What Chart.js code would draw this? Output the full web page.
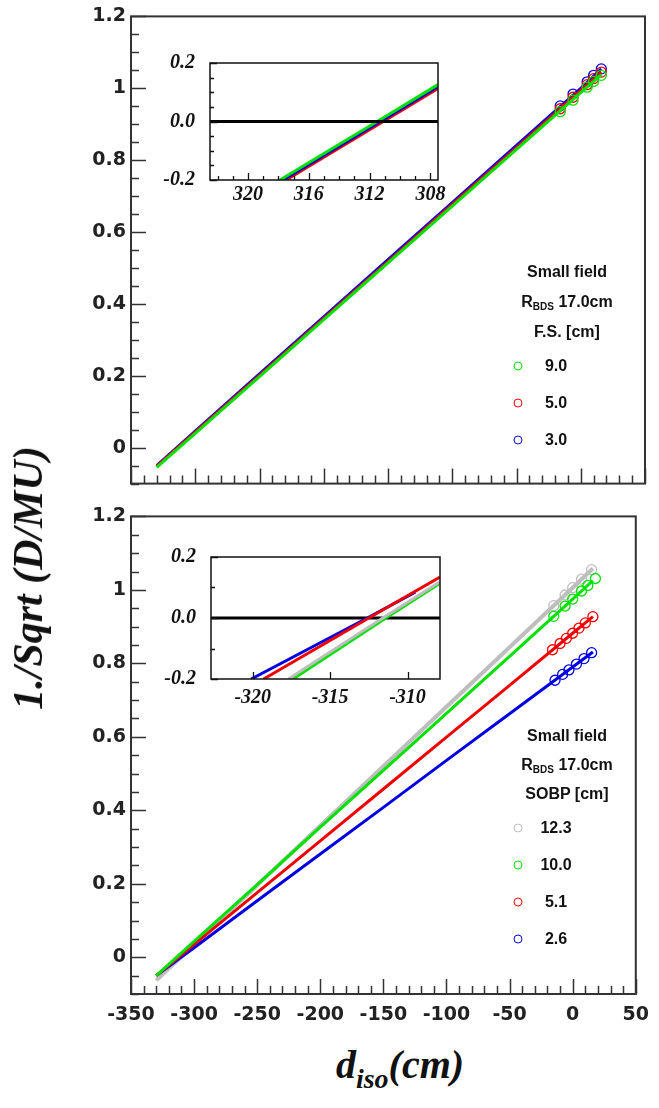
<!DOCTYPE html>
<html>
<head>
<meta charset="utf-8">
<script src="https://cdn.jsdelivr.net/npm/chart.js@4.4.1/dist/chart.umd.min.js"></script>
<style>
  body { margin: 0; background: #fff; }
  #wrap { position: relative; width: 659px; height: 1108px; overflow: hidden; }
  canvas { position: absolute; }
  .txt { position: absolute; font-family: "Liberation Sans", Arial, sans-serif; font-weight: bold; font-size: 16px; color: #111; white-space: nowrap; transform: translate(-50%, -50%); }
  .txt sub { font-size: 10px; vertical-align: -3px; }
  .mark { position: absolute; width: 7px; height: 7px; border-radius: 50%; border: 1.4px solid; transform: translate(-50%, -50%); }
  .title { position: absolute; font-family: "Liberation Serif", "Times New Roman", serif; font-style: italic; font-weight: bold; font-size: 40px; color: #111; white-space: nowrap; }
  .title sub { font-size: 28px; vertical-align: -10px; }
</style>
</head>
<body>
<div id="wrap">
  <canvas id="topChart" width="659" height="500" style="left:0;top:0"></canvas>
  <canvas id="bottomChart" width="659" height="540" style="left:0;top:500px"></canvas>
  <canvas id="topInset" width="310" height="180" style="left:140px;top:36px"></canvas>
  <canvas id="bottomInset" width="312" height="180" style="left:140px;top:530px"></canvas>
  <div id="legends"></div>
  <div class="title" style="left:28px;top:578px;transform:translate(-50%,-50%) rotate(-90deg);font-size:42px">1./Sqrt (D/MU)</div>
  <div class="title" style="left:400px;top:1068px;transform:translate(-50%,-50%)">d<sub>iso</sub>(cm)</div>
</div>
<script>
// ---------- colours ----------
const GREEN = 'rgb(0,225,0)';
const RED = 'rgb(240,0,0)';
const BLUE = 'rgb(0,0,225)';
const GRAY = 'rgb(190,190,190)';

// ---------- axis ticks ----------
const mainXTicks = [-350, -300, -250, -200, -150, -100, -50, 0, 50];
const mainYTicks = [0, 0.2, 0.4, 0.6, 0.8, 1, 1.2];
const topInsetXTicks = [320, 316, 312, 308];
const bottomInsetXTicks = [-320, -315, -310];
const insetYTicks = [-0.2, 0, 0.2];

// ---------- top panel (F.S.) ----------
const topLineX = [-330, -300, -250, -200, -150, -100, -50, 0, 16];
const topGreenY = [-0.055, 0.040, 0.198, 0.356, 0.514, 0.672, 0.830, 0.988, 1.038];
const topRedY = [-0.052, 0.043, 0.201, 0.360, 0.518, 0.677, 0.835, 0.994, 1.045];
const topBlueY = [-0.050, 0.046, 0.205, 0.364, 0.523, 0.682, 0.841, 1.000, 1.054];

const topPointX = [-16, -6, 5, 10, 16];
const topGreenPts = [0.935, 0.967, 1.003, 1.019, 1.036];
const topRedPts = [0.943, 0.975, 1.010, 1.027, 1.045];
const topBluePts = [0.951, 0.984, 1.018, 1.036, 1.054];

// top inset (distance shown positive, axis reversed)
const tiGreenX = [317.9, 311.5, 307.5];
const tiGreenY = [-0.2, 0, 0.126];
const tiRedX = [317.5, 311.1, 307.5];
const tiRedY = [-0.2, 0, 0.113];
const tiBlueX = [317.7, 311.3, 307.5];
const tiBlueY = [-0.2, 0, 0.120];

// ---------- bottom panel (SOBP) ----------
const botLineX = [-330, -300, -250, -200, -150, -100, -50, 0, 16];
const botGrayY = [-0.063, 0.034, 0.196, 0.358, 0.520, 0.682, 0.844, 1.006, 1.058];
const botGreenY = [-0.050, 0.043, 0.198, 0.354, 0.509, 0.664, 0.819, 0.975, 1.025];
const botRedY = [-0.050, 0.035, 0.176, 0.317, 0.458, 0.599, 0.740, 0.882, 0.927];
const botBlueY = [-0.050, 0.026, 0.154, 0.281, 0.408, 0.536, 0.663, 0.790, 0.831];

const botGrayPtsX = [-15, -6, 0, 7, 15];
const botGrayPts = [0.957, 0.986, 1.006, 1.029, 1.055];
const botGreenPtsX = [-15, -6, 0, 7, 12, 18];
const botGreenPts = [0.928, 0.956, 0.975, 0.997, 1.012, 1.031];
const botRedPtsX = [-16, -10, -5, 0, 5, 10, 16];
const botRedPts = [0.837, 0.854, 0.868, 0.882, 0.896, 0.910, 0.927];
const botBluePtsX = [-14, -8, -3, 3, 9, 15];
const botBluePts = [0.754, 0.770, 0.782, 0.798, 0.813, 0.829];

// bottom inset
const biGrayX = [-317.7, -311.6, -307.9];
const biGrayY = [-0.2, 0, 0.119];
const biGreenX = [-317.4, -311.4, -307.9];
const biGreenY = [-0.2, 0, 0.114];
const biRedX = [-319.3, -312.5, -307.9];
const biRedY = [-0.2, 0, 0.134];
const biBlueX = [-320.1, -312.6, -309.5];
const biBlueY = [-0.2, 0, 0.085];

// legends
const topLegendTitle = ['Small field', 'R<sub>BDS</sub> 17.0cm', 'F.S. [cm]'];
const topLegendNames = ['9.0', '5.0', '3.0'];
const topLegendColors = [GREEN, RED, BLUE];
const botLegendTitle = ['Small field', 'R<sub>BDS</sub> 17.0cm', 'SOBP [cm]'];
const botLegendNames = ['12.3', '10.0', '5.1', '2.6'];
const botLegendColors = [GRAY, GREEN, RED, BLUE];

const pts = (xs, ys) => xs.map((x, i) => ({x: x, y: ys[i]}));

// ---------- frame + inward ticks (ROOT style) ----------
const rootFrame = {
    id: 'rootFrame',
    beforeDraw(chart) {
        const a = chart.chartArea;
        chart.ctx.save();
        chart.ctx.fillStyle = '#fff';
        chart.ctx.fillRect(a.left, a.top, a.right - a.left, a.bottom - a.top);
        chart.ctx.restore();
    },
    afterDraw(chart, args, o) {
        const ctx = chart.ctx, a = chart.chartArea;
        const xs = chart.scales.x, ys = chart.scales.y;
        ctx.save();
        ctx.strokeStyle = o.color;
        ctx.lineWidth = o.frameWidth;
        ctx.strokeRect(a.left, a.top, a.right - a.left, a.bottom - a.top);
        ctx.lineWidth = o.tickWidth;
        ctx.beginPath();
        const isMajor = (list, v) => list.some(t => Math.abs(t - v) < 1e-6);
        // x ticks (upwards from the bottom edge)
        const xlo = Math.min(xs.min, xs.max), xhi = Math.max(xs.min, xs.max);
        for (let k = Math.ceil(xlo / o.xStep - 1e-9); k * o.xStep <= xhi + 1e-9; k++) {
            const v = k * o.xStep;
            const len = isMajor(o.xMajor, v) ? o.majorLen : o.minorLen;
            if (!isMajor(o.xMajor, v) && !o.xMinor) continue;
            const px = Math.round(xs.getPixelForValue(v)) + 0.5;
            ctx.moveTo(px, a.bottom);
            ctx.lineTo(px, a.bottom - len);
        }
        // y ticks (rightwards from the left edge)
        for (let k = Math.ceil(ys.min / o.yStep - 1e-9); k * o.yStep <= ys.max + 1e-9; k++) {
            const v = k * o.yStep;
            const len = isMajor(o.yMajor, v) ? o.majorLen : o.minorLen;
            const py = Math.round(ys.getPixelForValue(v)) + 0.5;
            ctx.moveTo(a.left, py);
            ctx.lineTo(a.left + len, py);
        }
        ctx.stroke();
        ctx.restore();
    }
};

const lineSet = (xs, ys, color, w) => ({
    data: pts(xs, ys), showLine: true, borderColor: color, borderWidth: w || 3,
    pointRadius: 0, fill: false, tension: 0
});
const circleSet = (xs, ys, color) => ({
    data: pts(xs, ys), showLine: false, borderColor: color, backgroundColor: 'rgba(0,0,0,0)',
    pointRadius: 5, pointBorderWidth: 1.3, pointStyle: 'circle'
});

const tickFont = {family: '"DejaVu Sans", sans-serif', weight: 'bold', size: 19};
const insetFont = {family: '"Liberation Serif", serif', weight: 'bold', style: 'italic', size: 20};

function mainOptions(showXLabels, padTop) {
    return {
        responsive: false, animation: false, devicePixelRatio: 1,
        layout: {padding: {top: padTop, right: 14, left: 0, bottom: 0}},
        plugins: {
            legend: {display: false}, tooltip: {enabled: false},
            rootFrame: {color: '#333', frameWidth: 2, tickWidth: 1.5, majorLen: 15, minorLen: 8,
                xStep: 10, xMajor: mainXTicks, xMinor: true, yStep: 0.05, yMajor: mainYTicks}
        },
        scales: {
            x: {
                type: 'linear', min: -350, max: 50,
                afterBuildTicks: s => { s.ticks = mainXTicks.map(v => ({value: v})); },
                afterFit: s => { s.height = showXLabels ? 46 : 6; },
                grid: {display: false, drawTicks: false}, border: {display: false},
                ticks: {display: showXLabels, font: tickFont, color: '#222', padding: 10, maxRotation: 0,
                    callback: v => String(v)}
            },
            y: {
                type: 'linear', min: -0.1, max: 1.2,
                afterBuildTicks: s => { s.ticks = mainYTicks.map(v => ({value: v})); },
                afterFit: s => { s.width = 131; },
                grid: {display: false, drawTicks: false}, border: {display: false},
                ticks: {font: tickFont, color: '#222', padding: 5, callback: v => String(+v.toFixed(2))}
            }
        }
    };
}

function insetOptions(xMin, xMax, reverse, xTicks, xMinor, yStep, axisH, yW, labelPad) {
    return {
        responsive: false, animation: false, devicePixelRatio: 1,
        layout: {padding: {top: 0, right: 12, left: 0, bottom: 0}},
        plugins: {
            legend: {display: false}, tooltip: {enabled: false},
            rootFrame: {color: '#111', frameWidth: 1.5, tickWidth: 1.3, majorLen: 7, minorLen: 4,
                xStep: 1, xMajor: xTicks, xMinor: xMinor, yStep: yStep, yMajor: insetYTicks}
        },
        scales: {
            x: {
                type: 'linear', min: xMin, max: xMax, reverse: reverse,
                afterBuildTicks: s => { s.ticks = xTicks.map(v => ({value: v})); },
                afterFit: s => { s.height = axisH; },
                grid: {display: false, drawTicks: false}, border: {display: false},
                ticks: {font: insetFont, color: '#111', padding: labelPad, maxRotation: 0, callback: v => String(v)}
            },
            y: {
                type: 'linear', min: -0.2, max: 0.2,
                afterBuildTicks: s => { s.ticks = insetYTicks.map(v => ({value: v})); },
                afterFit: s => { s.width = yW; },
                grid: {display: false, drawTicks: false}, border: {display: false},
                ticks: {font: insetFont, color: '#111', padding: 15, callback: v => Number(v).toFixed(1)}
            }
        }
    };
}

// ---------- Top Panel Chart Start ----------
new Chart(document.getElementById('topChart'), {
    type: 'scatter',
    data: {
        datasets: [
            lineSet(topLineX, topGreenY, GREEN),
            circleSet(topPointX, topGreenPts, GREEN),
            lineSet(topLineX, topRedY, RED),
            circleSet(topPointX, topRedPts, RED),
            lineSet(topLineX, topBlueY, BLUE),
            circleSet(topPointX, topBluePts, BLUE)
        ]
    },
    options: mainOptions(false, 14),
    plugins: [rootFrame]
});
// ---------- Top Panel Chart End ----------

// ---------- Bottom Panel Chart Start ----------
new Chart(document.getElementById('bottomChart'), {
    type: 'scatter',
    data: {
        datasets: [
            lineSet(botLineX, botGreenY, GREEN),
            circleSet(botGreenPtsX, botGreenPts, GREEN),
            lineSet(botLineX, botRedY, RED),
            circleSet(botRedPtsX, botRedPts, RED),
            lineSet(botLineX, botBlueY, BLUE),
            circleSet(botBluePtsX, botBluePts, BLUE),
            lineSet(botLineX, botGrayY, GRAY, 4),
            circleSet(botGrayPtsX, botGrayPts, GRAY)
        ]
    },
    options: mainOptions(true, 11),
    plugins: [rootFrame]
});
// ---------- Bottom Panel Chart End ----------

// ---------- Insets ----------
const zeroLine = (a, b) => ({data: [{x: a, y: 0}, {x: b, y: 0}], showLine: true, borderColor: '#000',
    borderWidth: 3, pointRadius: 0});

const tiOpts = insetOptions(307.5, 322.5, true, topInsetXTicks, true, 0.05, 36, 70, 3);
tiOpts.layout.padding.top = 10;
new Chart(document.getElementById('topInset'), {
    type: 'scatter',
    data: {
        datasets: [
            zeroLine(307.5, 322.5),
            lineSet(tiGreenX, tiGreenY, GREEN),
            lineSet(tiBlueX, tiBlueY, BLUE),
            lineSet(tiRedX, tiRedY, RED)
        ]
    },
    options: tiOpts,
    plugins: [rootFrame]
});

const biOpts = insetOptions(-322.7, -307.9, false, bottomInsetXTicks, false, 0.1, 31, 71, 7);
biOpts.layout.padding.top = 16;
new Chart(document.getElementById('bottomInset'), {
    type: 'scatter',
    data: {
        datasets: [
            lineSet(biRedX, biRedY, RED),
            lineSet(biBlueX, biBlueY, BLUE),
            lineSet(biGrayX, biGrayY, GRAY),
            lineSet(biGreenX, biGreenY, GREEN),
            zeroLine(-322.7, -307.9)
        ]
    },
    options: biOpts,
    plugins: [rootFrame]
});

// ---------- Legends (HTML text) ----------
function buildLegend(titles, titleYs, names, colors, entryYs) {
    const box = document.getElementById('legends');
    titles.forEach((t, i) => {
        const d = document.createElement('div');
        d.className = 'txt';
        d.style.left = '567px';
        d.style.top = titleYs[i] + 'px';
        d.innerHTML = t;
        box.appendChild(d);
    });
    names.forEach((n, i) => {
        const m = document.createElement('div');
        m.className = 'mark';
        m.style.left = '518px';
        m.style.top = entryYs[i] + 'px';
        m.style.borderColor = colors[i];
        box.appendChild(m);
        const d = document.createElement('div');
        d.className = 'txt';
        d.style.left = '556px';
        d.style.top = entryYs[i] + 'px';
        d.textContent = n;
        box.appendChild(d);
    });
}
buildLegend(topLegendTitle, [272, 302, 332], topLegendNames, topLegendColors, [366, 403, 440]);
buildLegend(botLegendTitle, [736, 765, 794], botLegendNames, botLegendColors, [828, 865, 902, 939]);
</script>
</body>
</html>
